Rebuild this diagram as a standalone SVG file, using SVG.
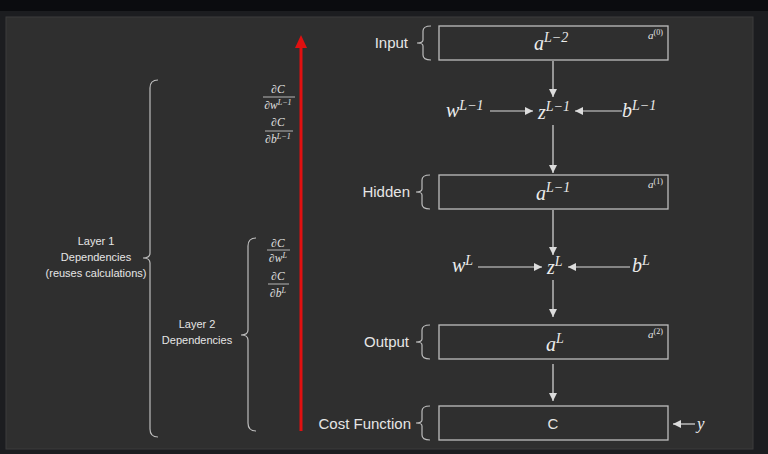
<svg xmlns="http://www.w3.org/2000/svg" width="768" height="454" viewBox="0 0 768 454">
<defs>
<style>
.lbl{font-family:"Liberation Sans",Arial,sans-serif;fill:#e6e6e6;font-size:15px}
.sm{font-family:"Liberation Sans",Arial,sans-serif;fill:#e6e6e6;font-size:11px;text-anchor:middle}
.m{font-family:"Liberation Serif","DejaVu Serif",serif;font-style:italic;fill:#ececec;font-size:20px}
.ms{font-family:"Liberation Serif","DejaVu Serif",serif;font-style:italic;fill:#e6e6e6;font-size:11px}
.fr{font-family:"Liberation Serif","DejaVu Serif",serif;font-style:italic;fill:#e0e0e0;font-size:11.5px;text-anchor:middle}
.box{fill:none;stroke:#bdbdbd;stroke-width:1.3}
.br{fill:none;stroke:#bdbdbd;stroke-width:1.2}
.ln{fill:none;stroke:#dcdcdc;stroke-width:1.2}
.fl{stroke:#d8d8d8;stroke-width:0.8}
</style>
<marker id="ah" viewBox="0 0 10 10" refX="10" refY="5" markerWidth="8" markerHeight="8" markerUnits="userSpaceOnUse" orient="auto">
<path d="M0,0 L10,5 L0,10 Z" fill="#dcdcdc"/>
</marker>
</defs>
<rect x="0" y="0" width="768" height="454" fill="#1c1d20"/>
<rect x="0" y="0" width="768" height="11" fill="#0b0c0f"/>
<rect x="6" y="17" width="747" height="432" fill="#2f2f2f" stroke="#3c3c3c" stroke-width="1"/>

<g id="connectors">
<line class="ln" x1="553" y1="61" x2="553" y2="97" marker-end="url(#ah)"/>
<line class="ln" x1="490" y1="111" x2="533" y2="111" marker-end="url(#ah)"/>
<line class="ln" x1="622" y1="111" x2="575" y2="111" marker-end="url(#ah)"/>
<line class="ln" x1="553" y1="125" x2="553" y2="173" marker-end="url(#ah)"/>
<line class="ln" x1="553" y1="210" x2="553" y2="255" marker-end="url(#ah)"/>
<line class="ln" x1="478" y1="267" x2="542" y2="267" marker-end="url(#ah)"/>
<line class="ln" x1="630" y1="267" x2="568" y2="267" marker-end="url(#ah)"/>
<line class="ln" x1="553" y1="280" x2="553" y2="317" marker-end="url(#ah)"/>
<line class="ln" x1="553" y1="364" x2="553" y2="401" marker-end="url(#ah)"/>
<line class="ln" x1="695" y1="424" x2="673" y2="424" marker-end="url(#ah)"/>
<line x1="301" y1="431" x2="301" y2="46" stroke="#e01010" stroke-width="3"/>
<path d="M301,35 L307,48 L295,48 Z" fill="#e01010"/>
</g>

<g id="input">
<text class="lbl" x="408" y="48" text-anchor="end">Input</text>
<path class="br" d="M431,26 Q423,26 423,31 L423,40 Q423,43 417,43 Q423,43 423,46 L423,55 Q423,60 431,60"/>
<rect class="box" x="439" y="26" width="229" height="34"/>
<text class="m" x="534" y="50">a<tspan font-size="14" dy="-8">L−2</tspan></text>
<text class="ms" x="648" y="39">a<tspan font-size="8" dy="-4" font-style="normal">(0)</tspan></text>
</g>

<g id="z1">
<text class="m" x="446" y="117">w<tspan font-size="14" dy="-7">L−1</tspan></text>
<text class="m" x="538" y="119">z<tspan font-size="14" dy="-8">L−1</tspan></text>
<text class="m" x="622" y="117">b<tspan font-size="14" dy="-7">L−1</tspan></text>
</g>

<g id="hidden">
<text class="lbl" x="410" y="197" text-anchor="end">Hidden</text>
<path class="br" d="M430,175 Q422,175 422,180 L422,189 Q422,192 416,192 Q422,192 422,195 L422,204 Q422,209 430,209"/>
<rect class="box" x="439" y="175" width="229" height="34"/>
<text class="m" x="536" y="200">a<tspan font-size="14" dy="-8">L−1</tspan></text>
<text class="ms" x="648" y="188">a<tspan font-size="8" dy="-4" font-style="normal">(1)</tspan></text>
</g>

<g id="z2">
<text class="m" x="452" y="272">w<tspan font-size="14" dy="-7">L</tspan></text>
<text class="m" x="547" y="274">z<tspan font-size="14" dy="-8">L</tspan></text>
<text class="m" x="632" y="272">b<tspan font-size="14" dy="-7">L</tspan></text>
</g>

<g id="output">
<text class="lbl" x="409" y="347" text-anchor="end">Output</text>
<path class="br" d="M430,325 Q422,325 422,330 L422,339 Q422,342 416,342 Q422,342 422,345 L422,354 Q422,359 430,359"/>
<rect class="box" x="439" y="325" width="229" height="34"/>
<text class="m" x="546" y="351">a<tspan font-size="14" dy="-8">L</tspan></text>
<text class="ms" x="648" y="338">a<tspan font-size="8" dy="-4" font-style="normal">(2)</tspan></text>
</g>

<g id="cost">
<text class="lbl" x="411" y="429" text-anchor="end">Cost Function</text>
<path class="br" d="M430,406 Q422,406 422,411 L422,420 Q422,423 416,423 Q422,423 422,426 L422,435 Q422,440 430,440"/>
<rect class="box" x="439" y="406" width="229" height="34"/>
<text class="lbl" x="553" y="429" text-anchor="middle">C</text>
<text class="m" x="697" y="429" style="font-size:17px">y</text>
</g>

<g id="layer1">
<path class="br" d="M158,80 Q150,80 150,88 L150,253 Q150,258 143,258 Q150,258 150,263 L150,429 Q150,437 158,437"/>
<text class="sm" x="96" y="245">Layer 1</text>
<text class="sm" x="96" y="261">Dependencies</text>
<text class="sm" x="96" y="277">(reuses calculations)</text>
<text class="fr" x="278" y="93">∂C</text>
<line class="fl" x1="263" y1="97" x2="295" y2="97"/>
<text class="fr" x="278" y="109">∂w<tspan font-size="8" dy="-4">L−1</tspan></text>
<text class="fr" x="278" y="126">∂C</text>
<line class="fl" x1="265" y1="131" x2="293" y2="131"/>
<text class="fr" x="278" y="143">∂b<tspan font-size="8" dy="-4">L−1</tspan></text>
</g>

<g id="layer2">
<path class="br" d="M256,238 Q248,238 248,246 L248,330 Q248,335 241,335 Q248,335 248,340 L248,423 Q248,431 256,431"/>
<text class="sm" x="197" y="328">Layer 2</text>
<text class="sm" x="197" y="344">Dependencies</text>
<text class="fr" x="278" y="247">∂C</text>
<line class="fl" x1="267" y1="250" x2="290" y2="250"/>
<text class="fr" x="278" y="262">∂w<tspan font-size="8" dy="-4">L</tspan></text>
<text class="fr" x="278" y="280">∂C</text>
<line class="fl" x1="268" y1="284" x2="289" y2="284"/>
<text class="fr" x="278" y="297">∂b<tspan font-size="8" dy="-4">L</tspan></text>
</g>
</svg>
